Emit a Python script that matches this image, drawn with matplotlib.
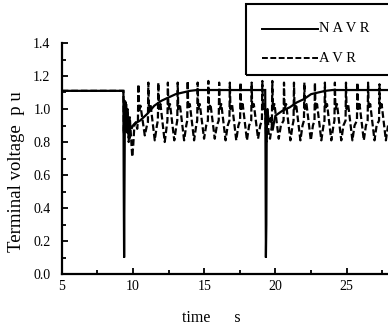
import matplotlib
matplotlib.use("Agg")
import matplotlib.pyplot as plt
from matplotlib.lines import Line2D
from matplotlib.patches import Rectangle

plt.rcParams['font.family'] = ['Liberation Serif', 'DejaVu Serif']

# ---- data ----
navr_t = [5.0, 9.33, 9.35, 9.38, 9.41, 9.44, 9.48, 9.52, 9.56, 9.60, 9.65, 9.70, 9.75,
          9.80, 9.90, 10.0, 10.1, 10.5, 11.0, 11.5, 12.0, 12.5, 13.0, 13.5, 14.0,
          14.5, 15.0, 19.28, 19.30, 19.33, 19.36, 19.39, 19.42, 19.50, 19.60, 19.70,
          19.80, 19.90, 20.0, 20.5, 21.0, 21.5, 22.0, 22.5, 23.0, 23.5, 24.0, 24.5, 28.0]
navr_v = [1.11, 1.11, 0.60, 0.10, 0.60, 1.05, 0.90, 1.03, 0.87, 1.00, 0.85, 0.95, 0.82,
          0.90, 0.88, 0.90, 0.91, 0.93, 0.97, 1.02, 1.05, 1.07, 1.09, 1.10, 1.11,
          1.115, 1.115, 1.115, 0.80, 0.10, 0.30, 0.95, 1.00, 0.95, 0.92, 0.95,
          0.87, 0.92, 0.96, 0.99, 1.01, 1.04, 1.06, 1.09, 1.10, 1.11, 1.115, 1.115, 1.115]

avr_t = [5.0, 9.33,
         9.36, 9.40, 9.44, 9.50, 9.55, 9.62, 9.70, 9.78, 9.85, 9.95, 10.02, 10.10, 10.20, 10.30,
         10.35, 10.38, 10.42, 10.53, 10.83, 10.98,
         11.05, 11.08, 11.12, 11.23, 11.53, 11.68,
         11.75, 11.78, 11.82, 11.93, 12.23, 12.38,
         12.42, 12.45, 12.49, 12.60, 12.90, 13.05,
         13.11, 13.14, 13.18, 13.29, 13.59, 13.74,
         13.81, 13.84, 13.88, 13.99, 14.29, 14.44,
         14.51, 14.54, 14.58, 14.69, 14.99, 15.14,
         15.26, 15.29, 15.33, 15.44, 15.74, 15.89,
         16.02, 16.05, 16.09, 16.20, 16.50, 16.65,
         16.77, 16.80, 16.84, 16.95, 17.25, 17.40,
         17.52, 17.55, 17.59, 17.70, 18.00, 18.15,
         18.30, 18.33, 18.37, 18.48, 18.78, 18.93,
         19.05, 19.08, 19.12, 19.23, 19.30, 19.36, 19.44, 19.52, 19.62,
         19.75, 19.78, 19.82, 19.93, 20.23, 20.38,
         20.57, 20.60, 20.64, 20.75, 21.05, 21.20,
         21.27, 21.30, 21.34, 21.45, 21.75, 21.90,
         22.00, 22.03, 22.07, 22.18, 22.48, 22.63,
         22.74, 22.77, 22.81, 22.92, 23.22, 23.37,
         23.44, 23.47, 23.51, 23.62, 23.92, 24.07,
         24.14, 24.17, 24.21, 24.32, 24.62, 24.77,
         24.92, 24.95, 24.99, 25.10, 25.40, 25.55,
         25.72, 25.75, 25.79, 25.90, 26.20, 26.35,
         26.47, 26.50, 26.54, 26.65, 26.95, 27.10,
         27.27, 27.30, 27.34, 27.45, 27.75, 27.90]
avr_v = [1.11, 1.11,
         0.85, 1.05, 0.88, 1.04, 0.86, 1.00, 0.80, 0.95, 0.85, 0.71, 0.78, 0.90, 0.92, 0.88,
         0.93, 1.15, 0.98, 1.02, 0.84, 0.90,
         0.92, 1.16, 0.99, 1.03, 0.81, 0.90,
         0.93, 1.16, 1.00, 1.03, 0.80, 0.90,
         0.93, 1.16, 1.00, 1.03, 0.81, 0.90,
         0.93, 1.16, 1.00, 1.03, 0.81, 0.90,
         0.93, 1.17, 1.00, 1.03, 0.81, 0.90,
         0.93, 1.16, 1.00, 1.03, 0.82, 0.90,
         0.93, 1.17, 1.00, 1.03, 0.82, 0.90,
         0.93, 1.16, 1.00, 1.03, 0.81, 0.90,
         0.93, 1.16, 1.00, 1.03, 0.81, 0.90,
         0.93, 1.16, 1.00, 1.03, 0.81, 0.90,
         0.93, 1.16, 1.00, 1.03, 0.82, 0.90,
         0.93, 1.17, 1.00, 1.03, 0.95, 0.80, 1.00, 0.85, 0.82,
         0.90, 1.17, 1.00, 1.03, 0.82, 0.90,
         0.93, 1.16, 1.00, 1.03, 0.81, 0.90,
         0.93, 1.16, 1.00, 1.03, 0.81, 0.90,
         0.93, 1.16, 1.00, 1.03, 0.81, 0.90,
         0.93, 1.16, 1.00, 1.03, 0.81, 0.90,
         0.93, 1.16, 1.00, 1.03, 0.81, 0.90,
         0.93, 1.16, 1.00, 1.03, 0.81, 0.90,
         0.93, 1.16, 1.00, 1.03, 0.81, 0.90,
         0.93, 1.16, 1.00, 1.03, 0.81, 0.90,
         0.93, 1.16, 1.00, 1.03, 0.81, 0.90,
         0.93, 1.15, 1.00, 1.03, 0.81, 0.90]

x_ticks = [5, 10, 15, 20, 25]
y_ticks = [0.0, 0.2, 0.4, 0.6, 0.8, 1.0, 1.2, 1.4]
y_ticklabels = ['0.0', '0.2', '0.4', '0.6', '0.8', '1.0', '1.2', '1.4']
legend_labels = ['N A V R', 'A V R']

W, H = 388, 329
fig = plt.figure(figsize=(W / 100, H / 100), dpi=100)
ax = fig.add_axes([61.7 / W, 1 - 274 / H, 1 - 61.7 / W, (274 - 43) / H])

ax.plot(navr_t, navr_v, color='black', lw=1.6, solid_joinstyle='miter')
ax.plot(avr_t, avr_v, color='black', lw=1.6, dashes=(3.0, 1.3))

ax.set_xlim(5, 5 + (W - 61.7) / 14.25)
ax.set_ylim(0, 1.4)
ax.set_xticks(x_ticks)
ax.set_xticks([7.5, 12.5, 17.5, 22.5, 27.5], minor=True)
ax.set_yticks(y_ticks)
ax.set_yticklabels(y_ticklabels)
ax.set_yticks([0.1, 0.3, 0.5, 0.7, 0.9, 1.1, 1.3], minor=True)
ax.tick_params(which='both', direction='in', width=1.3, labelsize=10)
ax.tick_params(which='major', length=4)
ax.tick_params(which='minor', length=3)
ax.tick_params(axis='x', pad=4)
ax.tick_params(axis='y', pad=8)
for s in ['top', 'right']:
    ax.spines[s].set_visible(False)
for s in ['left', 'bottom']:
    ax.spines[s].set_linewidth(1.6)

fig.text(17 / W, 1 - 172 / H, 'Terminal voltage  p u', rotation=90,
         ha='center', va='center', fontsize=13.5)
fig.text(211 / W, 1 - 318 / H, 'time      s', ha='center', va='center', fontsize=11.5)

# legend drawn in figure pixel coordinates
def fx(px):
    return px / W

def fy(py):
    return 1 - py / H

fig.patches.append(Rectangle((fx(246), fy(75)), fx(150), 71 / H, transform=fig.transFigure,
                             fill=False, edgecolor='black', lw=1.5))
fig.lines.append(Line2D([fx(262), fx(318)], [fy(29), fy(29)], transform=fig.transFigure,
                        color='black', lw=1.4))
fig.lines.append(Line2D([fx(262), fx(318)], [fy(58), fy(58)], transform=fig.transFigure,
                        color='black', lw=1.4, dashes=(3.0, 1.3)))
fig.text(fx(319), fy(29), legend_labels[0], ha='left', va='center', fontsize=10.5)
fig.text(fx(319), fy(58), legend_labels[1], ha='left', va='center', fontsize=10.5)

fig.savefig('out.png', dpi=100)
